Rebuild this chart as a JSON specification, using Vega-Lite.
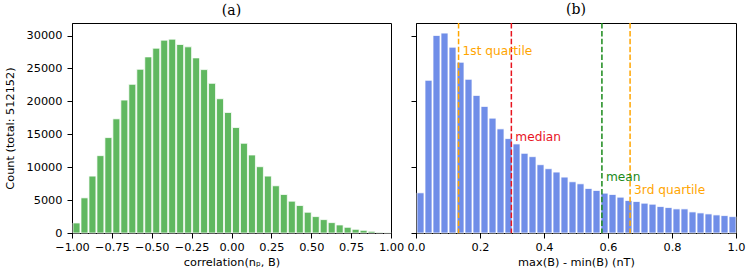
{
  "$schema": "https://vega.github.io/schema/vega-lite/v6.json",
  "padding": {"left": 3, "top": 2, "right": 4, "bottom": 2},
  "background": "white",
  "bounds": "flush",
  "spacing": 25,
  "config": {
    "view": {"stroke": "black", "strokeWidth": 1},
    "axis": {
      "labelFont": "DejaVu Sans", "labelFontSize": 11.3, "labelColor": "black",
      "titleFont": "DejaVu Sans", "titleFontSize": 11.3, "titleFontWeight": "normal", "titleColor": "black",
      "tickColor": "black", "domainColor": "black", "tickSize": 5, "labelPadding": 3,
      "labelFlush": false, "labelOverlap": false,
      "grid": false
    },
    "axisY": {"labelPadding": 5},
    "title": {"font": "DejaVu Serif", "fontSize": 14, "fontWeight": "normal", "color": "black", "offset": 5}
  },
  "datasets": {
    "corr": [
      {"start": -1.00, "end": -0.95, "count": 1526},
      {"start": -0.95, "end": -0.90, "count": 5340},
      {"start": -0.90, "end": -0.85, "count": 8646},
      {"start": -0.85, "end": -0.80, "count": 11749},
      {"start": -0.80, "end": -0.75, "count": 14495},
      {"start": -0.75, "end": -0.70, "count": 17343},
      {"start": -0.70, "end": -0.65, "count": 20191},
      {"start": -0.65, "end": -0.60, "count": 22582},
      {"start": -0.60, "end": -0.55, "count": 24871},
      {"start": -0.55, "end": -0.50, "count": 26752},
      {"start": -0.50, "end": -0.45, "count": 28075},
      {"start": -0.45, "end": -0.40, "count": 29295},
      {"start": -0.40, "end": -0.35, "count": 29448},
      {"start": -0.35, "end": -0.30, "count": 28634},
      {"start": -0.30, "end": -0.25, "count": 28278},
      {"start": -0.25, "end": -0.20, "count": 26600},
      {"start": -0.20, "end": -0.15, "count": 24820},
      {"start": -0.15, "end": -0.10, "count": 22734},
      {"start": -0.10, "end": -0.05, "count": 20395},
      {"start": -0.05, "end": 0.00, "count": 18310},
      {"start": 0.00, "end": 0.05, "count": 16021},
      {"start": 0.05, "end": 0.10, "count": 13630},
      {"start": 0.10, "end": 0.15, "count": 11850},
      {"start": 0.15, "end": 0.20, "count": 10070},
      {"start": 0.20, "end": 0.25, "count": 8646},
      {"start": 0.25, "end": 0.30, "count": 7171},
      {"start": 0.30, "end": 0.35, "count": 5849},
      {"start": 0.35, "end": 0.40, "count": 4832},
      {"start": 0.40, "end": 0.45, "count": 4171},
      {"start": 0.45, "end": 0.50, "count": 3153},
      {"start": 0.50, "end": 0.55, "count": 2492},
      {"start": 0.55, "end": 0.60, "count": 2034},
      {"start": 0.60, "end": 0.65, "count": 1577},
      {"start": 0.65, "end": 0.70, "count": 1221},
      {"start": 0.70, "end": 0.75, "count": 865},
      {"start": 0.75, "end": 0.80, "count": 559},
      {"start": 0.80, "end": 0.85, "count": 407},
      {"start": 0.85, "end": 0.90, "count": 254},
      {"start": 0.90, "end": 0.95, "count": 100},
      {"start": 0.95, "end": 1.00, "count": 50}
    ],
    "range": [
      {"start": 0.000, "end": 0.025, "count": 6103},
      {"start": 0.025, "end": 0.050, "count": 23192},
      {"start": 0.050, "end": 0.075, "count": 30007},
      {"start": 0.075, "end": 0.100, "count": 30363},
      {"start": 0.100, "end": 0.125, "count": 28227},
      {"start": 0.125, "end": 0.150, "count": 25939},
      {"start": 0.150, "end": 0.175, "count": 23345},
      {"start": 0.175, "end": 0.200, "count": 20903},
      {"start": 0.200, "end": 0.225, "count": 19225},
      {"start": 0.225, "end": 0.250, "count": 17445},
      {"start": 0.250, "end": 0.275, "count": 15817},
      {"start": 0.275, "end": 0.300, "count": 14342},
      {"start": 0.300, "end": 0.325, "count": 13529},
      {"start": 0.325, "end": 0.350, "count": 12105},
      {"start": 0.350, "end": 0.375, "count": 11596},
      {"start": 0.375, "end": 0.400, "count": 10375},
      {"start": 0.400, "end": 0.425, "count": 9765},
      {"start": 0.425, "end": 0.450, "count": 9257},
      {"start": 0.450, "end": 0.475, "count": 8494},
      {"start": 0.475, "end": 0.500, "count": 7782},
      {"start": 0.500, "end": 0.525, "count": 7476},
      {"start": 0.525, "end": 0.550, "count": 6764},
      {"start": 0.550, "end": 0.575, "count": 6459},
      {"start": 0.575, "end": 0.600, "count": 6052},
      {"start": 0.600, "end": 0.625, "count": 5849},
      {"start": 0.625, "end": 0.650, "count": 5442},
      {"start": 0.650, "end": 0.675, "count": 4933},
      {"start": 0.675, "end": 0.700, "count": 4781},
      {"start": 0.700, "end": 0.725, "count": 4527},
      {"start": 0.725, "end": 0.750, "count": 4374},
      {"start": 0.750, "end": 0.775, "count": 4018},
      {"start": 0.775, "end": 0.800, "count": 3865},
      {"start": 0.800, "end": 0.825, "count": 3662},
      {"start": 0.825, "end": 0.850, "count": 3662},
      {"start": 0.850, "end": 0.875, "count": 3204},
      {"start": 0.875, "end": 0.900, "count": 3052},
      {"start": 0.900, "end": 0.925, "count": 2899},
      {"start": 0.925, "end": 0.950, "count": 2746},
      {"start": 0.950, "end": 0.975, "count": 2645},
      {"start": 0.975, "end": 1.000, "count": 2492}
    ],
    "stats": [
      {"stat": "1st quartile", "value": 0.133, "labelY": 27600},
      {"stat": "median", "value": 0.298, "labelY": 14550},
      {"stat": "mean", "value": 0.581, "labelY": 8540},
      {"stat": "3rd quartile", "value": 0.669, "labelY": 6510}
    ]
  },
  "hconcat": [
    {
      "title": "(a)",
      "width": 319,
      "height": 210,
      "data": {"name": "corr"},
      "mark": {"type": "bar", "color": "#60b860", "stroke": "white", "strokeWidth": 1, "strokeOpacity": 0.75},
      "encoding": {
        "x": {"field": "start", "type": "quantitative", "bin": "binned", "scale": {"domain": [-1, 1], "nice": false},
              "axis": {"values": [-1, -0.75, -0.5, -0.25, 0, 0.25, 0.5, 0.75, 1], "format": ".2f", "title": "correlation(nₚ, B)", "titlePadding": 4}},
        "x2": {"field": "end"},
        "y": {"field": "count", "type": "quantitative", "scale": {"domain": [0, 31900], "nice": false},
              "axis": {"values": [0, 5000, 10000, 15000, 20000, 25000, 30000], "format": "d", "title": "Count (total: 512152)", "titlePadding": 11}}
      }
    },
    {
      "title": "(b)",
      "width": 320,
      "height": 210,
      "layer": [
        {
          "data": {"name": "range"},
          "mark": {"type": "bar", "color": "#708ee8", "stroke": "white", "strokeWidth": 1, "strokeOpacity": 0.75},
          "encoding": {
            "x": {"field": "start", "type": "quantitative", "bin": "binned", "scale": {"domain": [0, 1], "nice": false},
                  "axis": {"values": [0, 0.2, 0.4, 0.6, 0.8, 1], "format": ".1f", "title": "max(B) - min(B) (nT)", "titlePadding": 4}},
            "x2": {"field": "end"},
            "y": {"field": "count", "type": "quantitative", "scale": {"domain": [0, 31900], "nice": false},
                  "axis": {"values": [0, 5000, 10000, 15000, 20000, 25000, 30000], "labels": false, "title": null}}
          }
        },
        {
          "data": {"name": "stats"},
          "mark": {"type": "rule", "strokeWidth": 1.5, "strokeDash": [5.5, 2.4]},
          "encoding": {
            "x": {"field": "value", "type": "quantitative"},
            "color": {"field": "stat", "type": "nominal", "legend": null,
                      "scale": {"domain": ["1st quartile", "median", "mean", "3rd quartile"], "range": ["#ffa500", "#e8141e", "#1a8a1a", "#ffa500"]}}
          }
        },
        {
          "data": {"name": "stats"},
          "mark": {"type": "text", "align": "left", "baseline": "middle", "dx": 4, "font": "DejaVu Sans", "fontSize": 12.2},
          "encoding": {
            "x": {"field": "value", "type": "quantitative"},
            "y": {"field": "labelY", "type": "quantitative"},
            "text": {"field": "stat"},
            "color": {"field": "stat", "type": "nominal", "legend": null}
          }
        }
      ]
    }
  ]
}
